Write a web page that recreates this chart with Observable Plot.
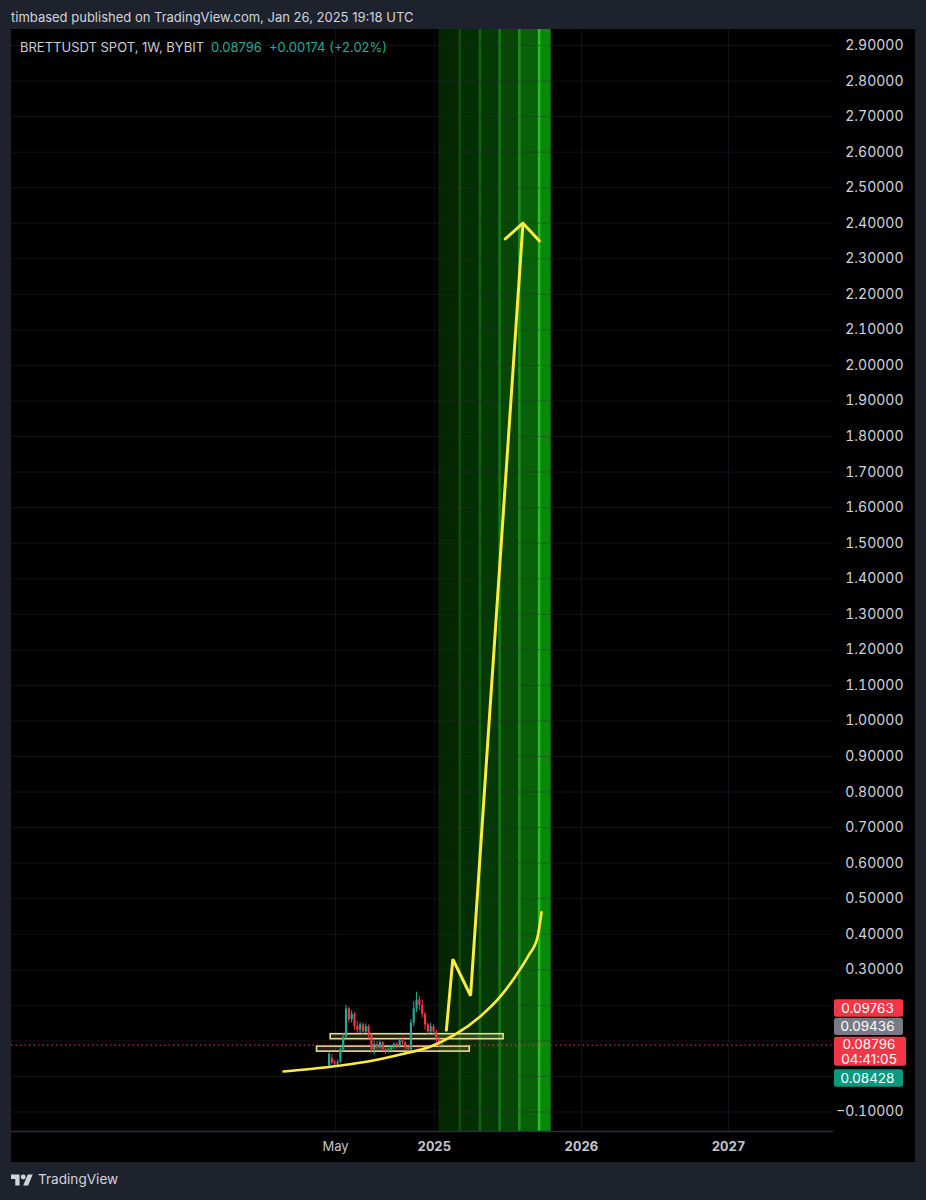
<!DOCTYPE html>
<html>
<head>
<meta charset="utf-8">
<script src="https://cdn.jsdelivr.net/npm/d3@7"></script>
<script src="https://cdn.jsdelivr.net/npm/@observablehq/plot@0.6"></script>
<style>
  html, body { margin: 0; padding: 0; }
  body { width: 926px; height: 1200px; background: #1e222d; position: relative; overflow: hidden;
         font-family: Inter, "Open Sans", sans-serif; color: #d1d4dc; }
  #hdr { position: absolute; left: 11px; top: 9px; font-size: 13px; color: #d1d4dc; white-space: nowrap; }
  #panel { position: absolute; left: 11px; top: 29px; width: 904px; height: 1133px; background: #000; }
  #legend { position: absolute; left: 9px; top: 10px; font-size: 13px; color: #c9ccd4; white-space: nowrap; }
  #legend .g { color: #22ab94; margin-left: 7px; }
  #footer { position: absolute; left: 11px; top: 1171px; display: flex; align-items: center; gap: 5px;
            font-size: 13.6px; color: #d1d4dc; }
</style>
</head>
<body>
<div id="hdr">timbased published on TradingView.com, Jan 26, 2025 19:18 UTC</div>
<div id="panel">
  <div id="chart"></div>
  <div id="legend">BRETTUSDT SPOT, 1W, BYBIT<span class="g">0.08796</span><span class="g">+0.00174 (+2.02%)</span></div>
</div>
<div id="footer">
  <svg width="22" height="15" viewBox="0 0 36 24"><path d="M14 22H7V11H0V4h14v18zM28 22h-8l7.5-18h8L28 22z" fill="#d1d4dc"/><circle cx="20" cy="8" r="4" fill="#d1d4dc"/></svg>
  <span>TradingView</span>
</div>
<script>
// ---- Data ----
const candleDates = ["2024-04-15","2024-04-22","2024-04-29","2024-05-06","2024-05-13","2024-05-20","2024-05-27",
  "2024-06-03","2024-06-10","2024-06-17","2024-06-24","2024-07-01","2024-07-08","2024-07-15","2024-07-22",
  "2024-07-29","2024-08-05","2024-08-12","2024-08-19","2024-08-26","2024-09-02","2024-09-09","2024-09-16",
  "2024-09-23","2024-09-30","2024-10-07","2024-10-14","2024-10-21","2024-10-28","2024-11-04","2024-11-11",
  "2024-11-18","2024-11-25","2024-12-02","2024-12-09","2024-12-16","2024-12-23","2024-12-30","2025-01-06",
  "2025-01-13","2025-01-20"];
const candleOpen  = [0.030,0.050,0.038,0.035,0.040,0.075,0.110,0.190,0.160,0.175,0.140,0.130,0.145,0.125,0.140,
  0.115,0.075,0.090,0.080,0.095,0.075,0.070,0.075,0.080,0.090,0.085,0.100,0.095,0.080,0.075,0.150,
  0.190,0.215,0.200,0.175,0.145,0.125,0.140,0.125,0.105,0.08622];
const candleHigh  = [0.068,0.062,0.045,0.046,0.080,0.120,0.200,0.195,0.185,0.180,0.155,0.152,0.150,0.148,0.145,
  0.120,0.100,0.098,0.100,0.098,0.082,0.080,0.085,0.095,0.095,0.108,0.110,0.098,0.088,0.160,0.210,
  0.237,0.225,0.215,0.180,0.150,0.150,0.145,0.130,0.110,0.09763];
const candleLow   = [0.025,0.033,0.028,0.030,0.037,0.070,0.105,0.150,0.150,0.130,0.120,0.120,0.115,0.120,0.105,
  0.065,0.060,0.070,0.075,0.068,0.062,0.066,0.070,0.076,0.078,0.080,0.088,0.072,0.068,0.070,0.140,
  0.180,0.185,0.165,0.130,0.115,0.120,0.115,0.095,0.082,0.08428];
const candleClose = [0.062,0.038,0.035,0.040,0.075,0.110,0.190,0.160,0.175,0.140,0.130,0.145,0.125,0.140,0.115,
  0.075,0.090,0.080,0.095,0.075,0.070,0.075,0.080,0.090,0.085,0.100,0.095,0.080,0.075,0.150,0.190,
  0.215,0.200,0.175,0.145,0.125,0.140,0.125,0.105,0.08622,0.08796];

const lastPrice = 0.08796;

// green projection band (segment edges) and bright lines
const bandStarts = ["2025-01-12","2025-03-05","2025-04-24","2025-06-12","2025-07-31","2025-09-18"];
const bandEnds   = ["2025-03-05","2025-04-24","2025-06-12","2025-07-31","2025-09-18","2025-10-18"];
const bandFills  = ["#032603","#042f04","#053905","#064606","#086108","#0a880a"];
const bandLineDates  = ["2025-03-05","2025-04-24","2025-06-12","2025-07-31","2025-09-18"];
const bandLineColors = ["#0c520c","#0f650f","#127d12","#159815","#20c420"];

// yellow drawings
const curveDates  = ["2023-12-24","2024-02-29","2024-05-14","2024-07-27","2024-10-09","2024-12-23","2025-02-22",
  "2025-04-25","2025-06-14","2025-07-21","2025-08-23","2025-09-14","2025-09-24"];
const curvePrices = [0.0141,0.0211,0.0309,0.0436,0.0619,0.0844,0.1181,0.1688,0.2250,0.2813,0.3404,0.3910,0.4614];
const arrowDates  = ["2025-01-31","2025-02-16","2025-04-01","2025-08-09"];
const arrowPrices = [0.130,0.330,0.227,2.400];
const headDates   = ["2025-06-26","2025-08-09","2025-09-19"];
const headPrices  = [2.356,2.400,2.350];
const boxStart = ["2024-04-19","2024-03-16"];
const boxEnd   = ["2025-06-22","2025-03-30"];
const boxLow   = [0.1047,0.0698];
const boxHigh  = [0.1188,0.0839];

// axes
const yTicks = [-0.1,0,0.1,0.2,0.3,0.4,0.5,0.6,0.7,0.8,0.9,1.0,1.1,1.2,1.3,1.4,1.5,1.6,1.7,1.8,1.9,2.0,
  2.1,2.2,2.3,2.4,2.5,2.6,2.7,2.8,2.9];
// labels hidden behind the price tags in the reference
const yHiddenLabels = [0,0.1,0.2];
const xMonthTicks = ["2024-05-01"];
const xMonthLabels = ["May"];
const xYearTicks = ["2025-01-01","2026-01-01","2027-01-01"];
const xYearLabels = ["2025","2026","2027"];

// price tags on the right
const tagValues = ["0.09763","0.09436","0.08796","0.08428"];
const tagColors = ["#f23645","#787b86","#f23645","#089981"];
const countdown = "04:41:05";

// ---- Build tables ----
const D = s => new Date(s + "T00:00:00Z");
const candles = candleDates.map((d,i) => ({date: D(d), open: candleOpen[i], high: candleHigh[i],
  low: candleLow[i], close: candleClose[i], up: candleClose[i] >= candleOpen[i]}));
const band = bandStarts.map((s,i) => ({x1: D(s), x2: D(bandEnds[i]), fill: bandFills[i]}));
const bandLines = bandLineDates.map((d,i) => ({x: D(d), stroke: bandLineColors[i]}));
const curve = curveDates.map((d,i) => ({x: D(d), y: curvePrices[i]}));
const arrow = arrowDates.map((d,i) => ({x: D(d), y: arrowPrices[i]}));
const head = headDates.map((d,i) => ({x: D(d), y: headPrices[i]}));
const boxes = boxStart.map((d,i) => ({x1: D(d), x2: D(boxEnd[i]), y1: boxLow[i], y2: boxHigh[i]}));
const yLabelTicks = yTicks.filter(v => !yHiddenLabels.includes(v));
const UP = "#22ab94", DOWN = "#f23645", YEL = "#ffeb3b";

const plot = Plot.plot({
  width: 904, height: 1133,
  marginLeft: 0, marginRight: 83, marginTop: 0, marginBottom: 31,
  style: {background: "#000", color: "#d1d4dc", fontFamily: "Inter, 'Open Sans', sans-serif", fontSize: "13px"},
  x: {type: "utc", domain: [D("2022-02-17"), D("2027-09-16")]},
  y: {domain: [-0.1549, 2.945]},
  marks: [
    Plot.rect(band, {x1: "x1", x2: "x2", fill: "fill"}),
    Plot.ruleX(bandLines, {x: "x", stroke: "stroke", strokeWidth: 2.5}),
    Plot.gridY(yTicks, {stroke: "#2a2e39", strokeOpacity: 0.4, strokeWidth: 1}),
    Plot.gridX([...xMonthTicks, ...xYearTicks].map(D), {stroke: "#2a2e39", strokeOpacity: 0.4, strokeWidth: 1}),
    Plot.rect(boxes, {x1: "x1", x2: "x2", y1: "y1", y2: "y2", fill: "#fff3a0", fillOpacity: 0.14,
      stroke: "#eadc8e", strokeWidth: 1.6}),
    Plot.ruleY([lastPrice], {stroke: DOWN, strokeDasharray: "1.5,3", strokeWidth: 1}),
    Plot.ruleX(candles, {x: "date", y1: "low", y2: "high", stroke: d => d.up ? UP : DOWN, strokeWidth: 1}),
    Plot.ruleX(candles, {x: "date", y1: "open", y2: "close", stroke: d => d.up ? UP : DOWN, strokeWidth: 2.2}),
    Plot.line(curve, {x: "x", y: "y", stroke: YEL, strokeWidth: 2.6, curve: "monotone-x"}),
    Plot.line(arrow, {x: "x", y: "y", stroke: YEL, strokeWidth: 3, strokeLinejoin: "miter"}),
    Plot.line(head, {x: "x", y: "y", stroke: YEL, strokeWidth: 3, strokeLinejoin: "miter"}),
    Plot.frame({anchor: "bottom", stroke: "#2a2e39", strokeWidth: 1.5}),
    Plot.axisY(yLabelTicks, {anchor: "right", tickSize: 0, tickPadding: 71, textAnchor: "end",
      tickFormat: d3.format(".5f"), fill: "#d1d4dc", fontSize: 14}),
    Plot.axisX(xMonthTicks.map(D), {tickSize: 0, tickPadding: 10, tickFormat: (d,i) => xMonthLabels[i],
      fill: "#c3c6ce", fontSize: 13}),
    Plot.axisX(xYearTicks.map(D), {tickSize: 0, tickPadding: 10, tickFormat: (d,i) => xYearLabels[i],
      fill: "#c3c6ce", fontSize: 13, fontWeight: "bold"})
  ]
});
document.getElementById("chart").appendChild(plot);

// price tags, positioned through the plot's y scale
const yc = plot.scale("y").apply(lastPrice);
const svg = d3.select(plot);
const tags = [
  {top: -45.4, bot: -28, w: 69, lines: [tagValues[0]], c: tagColors[0]},
  {top: -26.7, bot: -9.7, w: 69, lines: [tagValues[1]], c: tagColors[1]},
  {top: -8, bot: 21, w: 72, lines: [tagValues[2], countdown], c: tagColors[2]},
  {top: 24.6, bot: 42, w: 69, lines: [tagValues[3]], c: tagColors[3]}
];
const g = svg.append("g").attr("font-family", "Inter, 'Open Sans', sans-serif").attr("font-size", 13.5);
for (const t of tags) {
  g.append("rect").attr("x", 823).attr("y", yc + t.top).attr("width", t.w).attr("height", t.bot - t.top)
    .attr("rx", 2).attr("fill", t.c);
  const n = t.lines.length;
  t.lines.forEach((s, i) => {
    const cy = n === 1 ? (t.top + t.bot) / 2 : (i === 0 ? -0.5 : 14.5);
    g.append("text").attr("x", 823 + t.w / 2 - 1).attr("y", yc + cy).attr("dy", "0.35em")
      .attr("text-anchor", "middle").attr("fill", "#fff").text(s);
  });
}
</script>
</body>
</html>
